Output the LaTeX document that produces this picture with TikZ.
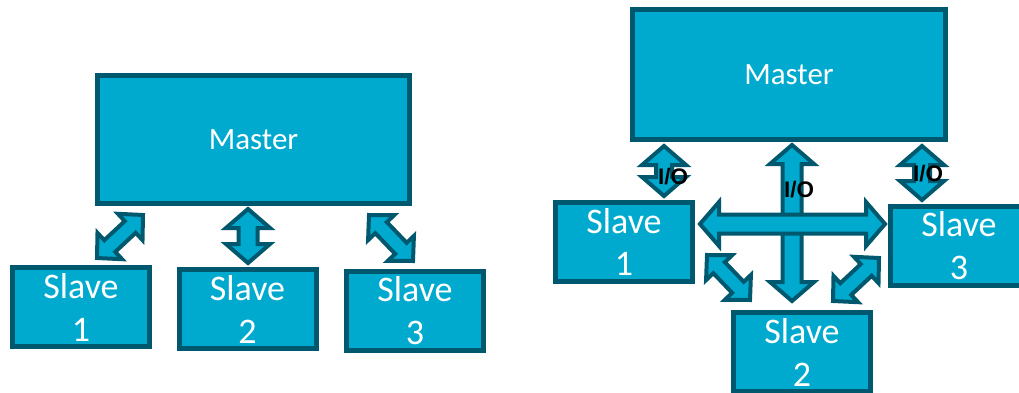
\documentclass[tikz,border=0pt]{standalone}
\usepackage{fontspec}
\setmainfont{Carlito}
\newfontfamily\iofont{Liberation Sans}
\usetikzlibrary{calc}
\definecolor{fillc}{RGB}{0,170,206}
\definecolor{edgec}{RGB}{0,88,110}
\tikzset{
  box/.style={draw=edgec, fill=fillc, line width=5pt, text=white, inner sep=0pt,
    align=center, font=\fontsize{36}{43}\selectfont},
  slavebox/.style={box, minimum width=137pt, minimum height=79pt},
  masterbox/.style={box, font=\fontsize{31}{37}\selectfont},
  arr/.style={draw=edgec, fill=fillc, line width=4pt, line join=miter},
  io/.style={font=\iofont\bfseries\fontsize{22.5}{25}\selectfont, text=black, inner sep=0pt}
}
% #1 start, #2 end, #3 shaft half width, #4 head half width, #5 head length
\newcommand\dblarrow[5]{%
  \draw[arr] (#1)
    -- ($(#1)!#5!(#2)!#4!90:(#2)$)
    -- ($(#1)!#5!(#2)!#3!90:(#2)$)
    -- ($(#2)!#5!(#1)!#3!-90:(#1)$)
    -- ($(#2)!#5!(#1)!#4!-90:(#1)$)
    -- (#2)
    -- ($(#2)!#5!(#1)!#4!90:(#1)$)
    -- ($(#2)!#5!(#1)!#3!90:(#1)$)
    -- ($(#1)!#5!(#2)!#3!-90:(#2)$)
    -- ($(#1)!#5!(#2)!#4!-90:(#2)$)
    -- cycle;}
\begin{document}
\begin{tikzpicture}[x=1pt,y=-1pt]
\useasboundingbox (0,0) rectangle (1019,393);
\fill[white] (0,0) rectangle (1019,393);
\begin{scope}
\clip (0,0) rectangle (1019,393);
% ---------- left diagram ----------
\node[masterbox, minimum width=312pt, minimum height=128pt] (lm) at (253.5,139.5) {Master};
\node[slavebox] (ls1) at (81,307) {Slave\\1};
\node[slavebox] (ls2) at (247.5,309) {Slave\\2};
\node[slavebox] (ls3) at (415,311) {Slave\\3};

\coordinate (la1a) at ($(ls1.north)+(16,-7)$);
\coordinate (la1b) at ($(lm.south west)+(48,9)$);
\dblarrow{la1a}{la1b}{8pt}{18pt}{17.5pt}

\coordinate (la2a) at ($(lm.south -| ls2.north)+(0.5,3)$);
\coordinate (la2b) at ($(ls2.north)+(0.5,-4)$);
\dblarrow{la2a}{la2b}{9.5pt}{22pt}{19pt}

\coordinate (la3a) at ($(lm.south east)+(-43,9)$);
\coordinate (la3b) at ($(ls3.north)+(-2,-8)$);
\dblarrow{la3a}{la3b}{8pt}{18pt}{17.5pt}

% ---------- right diagram ----------
\node[masterbox, minimum width=313pt, minimum height=130pt] (rm) at (789,74.5) {Master};
\node[slavebox] (rs1) at (624,242) {Slave\\1};
\node[slavebox] (rs2) at (802,352) {Slave\\2};
\node[slavebox] (rs3) at (959,246) {Slave\\3};

% small I/O arrows
\coordinate (ra1b) at ($(rs1.north)+(40,-4)$);
\coordinate (ra1a) at ($(ra1b |- rm.south)+(0,4)$);
\dblarrow{ra1a}{ra1b}{8pt}{22pt}{19pt}

\coordinate (ra4b) at ($(rs3.north)+(-37,-4)$);
\coordinate (ra4a) at ($(ra4b |- rm.south)+(0,4)$);
\dblarrow{ra4a}{ra4b}{8pt}{22pt}{19pt}

% central vertical arrow
\coordinate (ra2b) at ($(rs2.north)+(-10,-9)$);
\coordinate (ra2a) at ($(ra2b |- rm.south)+(0,3)$);
\dblarrow{ra2a}{ra2b}{9.5pt}{22pt}{19pt}

% horizontal arrow
\coordinate (ra3a) at ($(rs1.east)+(5,-18)$);
\coordinate (ra3b) at ($(ra3a -| rs3.west)+(-3,0)$);
\dblarrow{ra3a}{ra3b}{9.5pt}{22pt}{19pt}

% diagonal arrows
\coordinate (ra5a) at ($(rs1.south east)+(12,-29)$);
\coordinate (ra5b) at ($(rs2.north west)+(19,-10)$);
\dblarrow{ra5a}{ra5b}{8pt}{18pt}{17.5pt}

\coordinate (ra6a) at ($(rs3.south west)+(-9,-30)$);
\coordinate (ra6b) at ($(rs2.north east)+(-40,-9)$);
\dblarrow{ra6a}{ra6b}{8pt}{18pt}{17.5pt}

% labels
\node[io] (io1) at ($(ra1a)!0.5!(ra1b)+(9,6)$) {I/O};
\node[io] (io2) at ($(ra2a)+(7,45)$) {I/O};
\node[io] (io3) at ($(ra4a)!0.5!(ra4b)+(6,1)$) {I/O};
\end{scope}
\end{tikzpicture}
\end{document}
